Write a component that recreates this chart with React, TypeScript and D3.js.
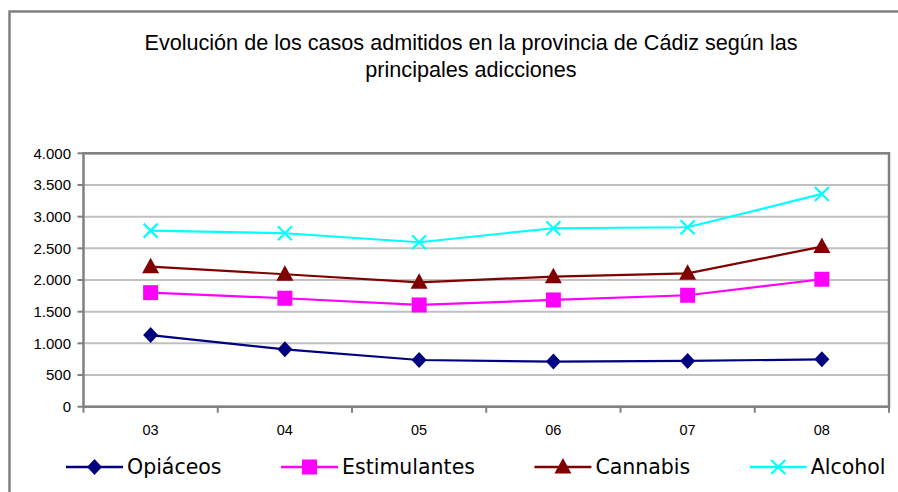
import React, { useEffect, useRef } from "react";
import * as d3 from "d3";

const categories = ["03", "04", "05", "06", "07", "08"];
const opiaceos = [1130, 905, 737, 712, 722, 748];
const estimulantes = [1800, 1712, 1606, 1685, 1759, 2012];
const cannabis = [2210, 2091, 1964, 2053, 2106, 2527];
const alcohol = [2779, 2738, 2596, 2817, 2833, 3359];
const yTicks = [0, 500, 1000, 1500, 2000, 2500, 3000, 3500, 4000];
const titleLines = [
  "Evolución de los casos admitidos en la provincia de Cádiz según las",
  "principales adicciones",
];

const series = [
  { name: "Opiáceos", values: opiaceos, color: "#000080", marker: "diamond" },
  { name: "Estimulantes", values: estimulantes, color: "#FF00FF", marker: "square" },
  { name: "Cannabis", values: cannabis, color: "#800000", marker: "triangle" },
  { name: "Alcohol", values: alcohol, color: "#00FFFF", marker: "x" },
];

const W = 898;
const H = 492;
const fmt = (v: number) => d3.format(",")(v).replace(/,/g, ".");

function drawMarker(g: any, type: string, color: string, cx: number, cy: number) {
  if (type === "diamond") {
    g.append("path")
      .attr("d", `M${cx},${cy - 8}L${cx + 7.5},${cy}L${cx},${cy + 8}L${cx - 7.5},${cy}Z`)
      .attr("fill", color);
  } else if (type === "square") {
    g.append("rect")
      .attr("x", cx - 7.5).attr("y", cy - 7.5)
      .attr("width", 15).attr("height", 15)
      .attr("fill", color);
  } else if (type === "triangle") {
    g.append("path")
      .attr("d", `M${cx},${cy - 9}L${cx + 8.5},${cy + 6.5}L${cx - 8.5},${cy + 6.5}Z`)
      .attr("fill", color);
  } else {
    g.append("path")
      .attr("d", `M${cx - 7},${cy - 7}L${cx + 7},${cy + 7}M${cx - 7},${cy + 7}L${cx + 7},${cy - 7}`)
      .attr("stroke", color)
      .attr("stroke-width", 2.2)
      .attr("fill", "none");
  }
}

const App = () => {
  const ref = useRef<SVGSVGElement>(null);

  useEffect(() => {
    const svg = d3.select(ref.current);
    svg.selectAll("*").remove();

    const left = 83.5, right = 889, top = 153.3, bottom = 406.7;

    const x = d3.scaleBand().domain(categories).range([left, right]).padding(0);
    const y = d3.scaleLinear().domain([0, 4000]).range([bottom, top]);
    const cx = (c: string) => (x(c) as number) + x.bandwidth() / 2;

    // outer frame
    svg.append("rect")
      .attr("x", 9.5).attr("y", 11.5)
      .attr("width", 920).attr("height", 520)
      .attr("fill", "#fff")
      .attr("stroke", "#808080").attr("stroke-width", 2.5);

    // title
    svg.append("g")
      .selectAll("text")
      .data(titleLines)
      .enter()
      .append("text")
      .attr("x", 471)
      .attr("y", (d, i) => 50 + i * 27)
      .attr("text-anchor", "middle")
      .style("font-family", "'Liberation Sans', Arial, sans-serif")
      .style("font-size", "21.6px")
      .style("fill", "#000")
      .text((d) => d);

    // grid
    svg.append("g")
      .selectAll("line")
      .data(yTicks)
      .enter()
      .append("line")
      .attr("x1", left).attr("x2", right)
      .attr("y1", (d) => y(d)).attr("y2", (d) => y(d))
      .attr("stroke", "#C0C0C0").attr("stroke-width", 2);

    // plot border
    svg.append("rect")
      .attr("x", left).attr("y", top)
      .attr("width", right - left).attr("height", bottom - top)
      .attr("fill", "none")
      .attr("stroke", "#808080").attr("stroke-width", 2.5);

    // y axis ticks + labels
    const ya = svg.append("g");
    ya.selectAll("line")
      .data(yTicks)
      .enter()
      .append("line")
      .attr("x1", left - 6).attr("x2", left)
      .attr("y1", (d) => y(d)).attr("y2", (d) => y(d))
      .attr("stroke", "#808080").attr("stroke-width", 2);
    ya.selectAll("text")
      .data(yTicks)
      .enter()
      .append("text")
      .attr("x", 71)
      .attr("y", (d) => y(d))
      .attr("dy", "0.36em")
      .attr("text-anchor", "end")
      .style("font-family", "'Liberation Sans', Arial, sans-serif")
      .style("font-size", "15px")
      .style("fill", "#000")
      .text((d) => fmt(d));

    // x axis ticks + labels
    const bounds = categories.map((c) => x(c) as number).concat([right]);
    const xa = svg.append("g");
    xa.selectAll("line")
      .data(bounds)
      .enter()
      .append("line")
      .attr("x1", (d) => d).attr("x2", (d) => d)
      .attr("y1", bottom).attr("y2", bottom + 6)
      .attr("stroke", "#808080").attr("stroke-width", 2);
    xa.selectAll("text")
      .data(categories)
      .enter()
      .append("text")
      .attr("x", (d) => cx(d))
      .attr("y", 435)
      .attr("text-anchor", "middle")
      .style("font-family", "'Liberation Sans', Arial, sans-serif")
      .style("font-size", "14.5px")
      .style("fill", "#000")
      .text((d) => d);

    // series
    const line = d3.line<number>()
      .x((d, i) => cx(categories[i]))
      .y((d) => y(d));

    series.forEach((s) => {
      const g = svg.append("g");
      g.append("path")
        .datum(s.values)
        .attr("d", line)
        .attr("fill", "none")
        .attr("stroke", s.color)
        .attr("stroke-width", 2.2);
      s.values.forEach((v, i) => drawMarker(g, s.marker, s.color, cx(categories[i]), y(v)));
    });

    // legend
    const lg = svg.append("g");
    let lx = 66;
    const ly = 467;
    series.forEach((s) => {
      const item = lg.append("g");
      item.append("line")
        .attr("x1", lx).attr("x2", lx + 57)
        .attr("y1", ly).attr("y2", ly)
        .attr("stroke", s.color).attr("stroke-width", 2.5);
      drawMarker(item, s.marker, s.color, lx + 28.5, ly);
      const t = item.append("text")
        .attr("x", lx + 61)
        .attr("y", ly)
        .attr("dy", "0.36em")
        .style("font-family", "'DejaVu Sans', Verdana, sans-serif")
        .style("font-size", "20.5px")
        .style("fill", "#000")
        .text(s.name);
      const tw = (t.node() as SVGTextElement).getComputedTextLength();
      lx = lx + 61 + tw + 59.5;
    });
  }, []);

  return (
    <svg
      ref={ref}
      width={W}
      height={H}
      style={{ position: "absolute", left: 0, top: 0, background: "#fff", display: "block" }}
    />
  );
};

export default App;
